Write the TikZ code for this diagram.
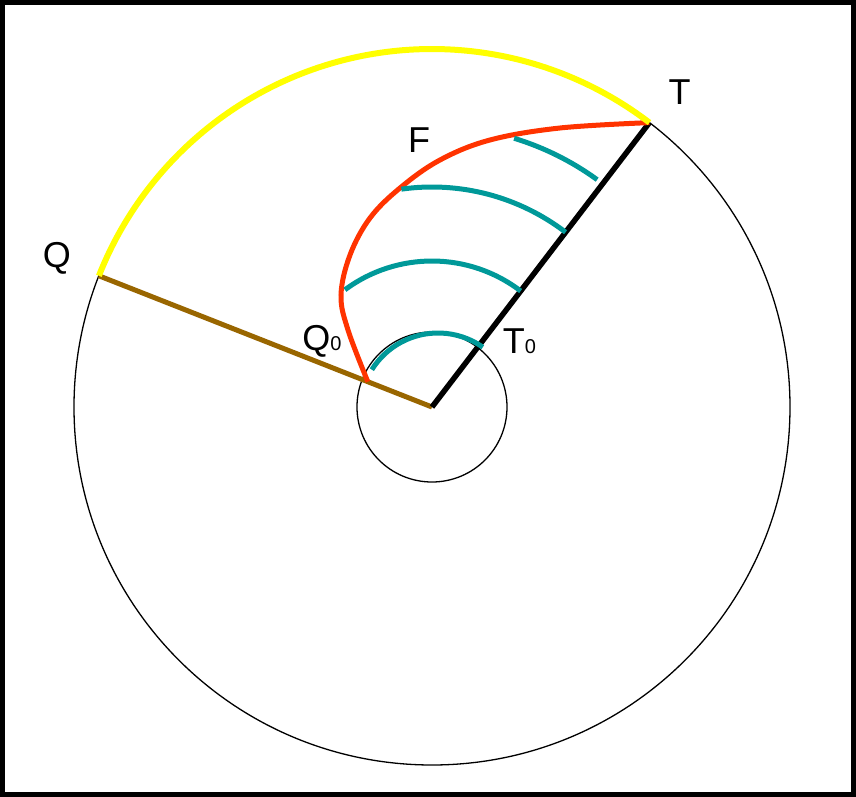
\documentclass[tikz,border=0pt]{standalone}
\usepackage{fontspec}
\setmainfont{Liberation Sans}
\definecolor{yyc}{rgb}{1,1,0}
\definecolor{bbc}{rgb}{0.6,0.4,0}
\definecolor{ffc}{rgb}{1,0.2,0}
\definecolor{ttc}{rgb}{0,0.6,0.6}
\newcommand{\sublbl}[1]{{\fontsize{20}{22}\selectfont #1}}
\begin{document}
\begin{tikzpicture}[x=1pt, y=1pt, lbl/.style={inner sep=0pt, font=\fontsize{36}{40}\selectfont}, wave/.style={color=ttc, line width=5pt}]

    \useasboundingbox (-432,-390) rectangle (424,407);
    \draw[line width=5pt] (-429.5,-387.5) rectangle (421.5,404.5);

    \coordinate (O) at (0,0);
    \coordinate (T) at (52.6:358);
    \coordinate (Q) at (158.5:358);
    \coordinate (Q0) at (158.5:69);
    \coordinate (T0) at (52.6:75);

    \draw[line width=1.3pt] (O) circle (358);
    \draw[line width=1.3pt] (O) circle (75);

    \node[lbl] (tlab) at (247.5,315) {T};
    \node[lbl] (flab) at (-13,266.5) {F};
    \node[lbl] (qlab) at (-375,149) {Q};
    \node[lbl] (q0lab) at (-110,66) {Q\sublbl{0}};
    \node[lbl] (t0lab) at (87.5,66) {T\sublbl{0}};

    \draw[color=bbc, line width=5pt] (O) -- (Q);
    \draw[line width=5.5pt] (O) -- (T);
    \draw[color=ffc, line width=5pt] plot[smooth, tension=0.6] coordinates {(Q0) (-84,77) (-91,112) (-82,152) (-62,189) (-32,219) (8,247) (58,267) (128,279) (T)};

    % level arcs
    \draw[wave] ([shift={(6,-4)}]148:78) arc (148:54.9:78);
    \draw[wave] (126.6:146) arc (126.6:52.6:146);
    \draw[wave] (98:220) arc (98:52.6:220);
    \draw[wave] (73:281) arc (73:54:281);

    \draw[color=yyc, line width=6pt] (T) arc (52.6:158.5:358);

  \end{tikzpicture}
\end{document}
